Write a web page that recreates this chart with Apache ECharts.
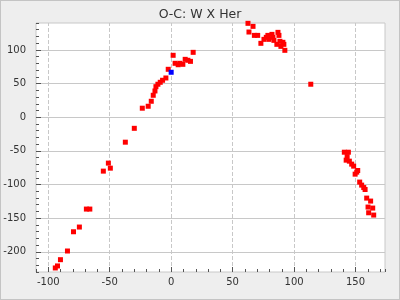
<!DOCTYPE html>
<html>
<head>
<meta charset="utf-8">
<script src="https://cdn.jsdelivr.net/npm/echarts@6/dist/echarts.min.js"></script>
<style>
html,body{margin:0;padding:0;background:#eeeeee;}
#wrap{position:relative;width:400px;height:300px;}
#c{width:400px;height:300px;}
#frame{position:absolute;left:0;top:0;width:398px;height:298px;border:1px solid #c4c4c4;pointer-events:none;}
</style>
</head>
<body>
<div id="wrap"><div id="c"></div><div id="frame"></div></div>
<script>
// Data
var titleText = 'O-C: W X Her';
var xTickLabels = [-100, -50, 0, 50, 100, 150];
var yTickLabels = [-200, -150, -100, -50, 0, 50, 100];

var redX = [
  -94.3, -92.5, -90.1, -84.4, -79.5, -74.7, -69.0, -66.2, -55.2, -51.1, -49.5, -37.3, -30.0,
  -23.5, -18.7, -16.2, -14.6, -13.2, -12.4, -10.8, -8.9, -7.0, -4.3, -2.4, 1.6, 3.2, 5.7, 7.1, 9.5, 11.4, 13.6, 15.7, 17.9,
  62.5, 66.6, 63.3, 67.7, 70.4, 73.0, 75.5, 77.4, 78.7, 79.5, 82.0, 82.8, 83.6, 86.9, 87.7, 86.0, 88.5, 89.3, 90.9, 91.7, 92.5,
  113.6,
  140.9, 144.2, 143.2, 142.4, 145.0, 146.9, 148.5, 151.8, 151.0, 149.7, 153.4, 155.0, 156.7, 157.8, 159.1, 162.3, 160.2, 164.0, 160.7, 164.8
];
var redY = [
  -224, -221, -211.7, -198.8, -170.2, -163.2, -136.5, -136.5, -80.1, -68.2, -75.7, -37.1, -16.5,
  13.4, 16.3, 23.7, 32.6, 39.0, 45.4, 49.0, 51.9, 54.9, 58.3, 71.2, 92.0, 80.1, 78.0, 80.1, 78.6, 86.0, 84.6, 83.0, 96.4,
  139.5, 135.0, 126.6, 121.6, 121.6, 109.8, 115.7, 118.7, 121.6, 115.7, 123.1, 118.7, 114.2, 126.1, 121.6, 108.3, 112.8, 105.3, 111.3, 108.3, 99.4,
  49.0,
  -52.0, -52.0, -58.5, -63.8, -65.3, -69.7, -72.7, -79.2, -81.6, -84.6, -96.4, -100.9, -104.5, -107.4, -120.2, -124.6, -133.5, -135.0, -142.0, -145.4
];
var blueX = [0.0];
var blueY = [66.8];

function zip(a, b) { return a.map(function (v, i) { return [v, b[i]]; }); }
function isTick(list, v) { return Math.abs(v - Math.round(v)) < 1e-6 && list.indexOf(Math.round(v)) >= 0; }

var font = 'DejaVu Sans';
var gridColor = '#c8c8c8';
var tickColor = '#555555';
var xMin = -110, xMax = 174, yMin = -230, yMax = 140, step = 10;
var G = {left: 36, right: 15, top: 23, bottom: 28};
var plotW = 400 - G.left - G.right, plotH = 300 - G.top - G.bottom;
// major tick length in pixels, converted to axis units
var majorX = 5 * (yMax - yMin) / plotH;   // for ticks on x axis (vertical extent)
var majorY = 5 * (xMax - xMin) / plotW;   // for ticks on y axis (horizontal extent)

var lines = [];
xTickLabels.forEach(function (v) {
  lines.push([{coord: [v, yMin], lineStyle: {type: 'dashed', color: gridColor, width: 1}}, {coord: [v, yMax]}]);
});
yTickLabels.forEach(function (v) {
  lines.push([{coord: [xMin, v], lineStyle: {type: 'solid', color: gridColor, width: 1}}, {coord: [xMax, v]}]);
});
var majorTicks = [];
xTickLabels.forEach(function (v) {
  majorTicks.push([{coord: [v, yMin], lineStyle: {type: 'solid', color: tickColor, width: 1}}, {coord: [v, yMin + majorX]}]);
});
yTickLabels.forEach(function (v) {
  majorTicks.push([{coord: [xMin, v], lineStyle: {type: 'solid', color: tickColor, width: 1}}, {coord: [xMin + majorY, v]}]);
});

var chart = echarts.init(document.getElementById('c'), null, {renderer: 'canvas'});
chart.setOption({
  animation: false,
  backgroundColor: '#eeeeee',
  title: {
    text: titleText, left: 'center', top: 3,
    textStyle: {fontFamily: font, fontSize: 12.5, fontWeight: 'normal', color: '#333333'}
  },
  grid: {
    left: G.left, right: G.right, top: G.top, bottom: G.bottom,
    show: true, backgroundColor: '#ffffff', borderColor: '#c8c8c8', borderWidth: 1
  },
  xAxis: {
    type: 'value', min: xMin, max: xMax, interval: step,
    axisLine: {show: false, onZero: false},
    axisTick: {show: true, inside: true, length: 3, lineStyle: {color: tickColor}},
    axisLabel: {
      margin: 5, fontFamily: font, fontSize: 10, color: '#333333',
      formatter: function (v) { return isTick(xTickLabels, v) ? String(Math.round(v)) : ''; }
    },
    splitLine: {show: false}
  },
  yAxis: {
    type: 'value', min: yMin, max: yMax, interval: step,
    axisLine: {show: false, onZero: false},
    axisTick: {show: true, inside: true, length: 3, lineStyle: {color: tickColor}},
    axisLabel: {
      margin: 10, fontFamily: font, fontSize: 10, color: '#333333',
      formatter: function (v) { return isTick(yTickLabels, v) ? String(Math.round(v)) : ''; }
    },
    splitLine: {show: false}
  },
  series: [{
    type: 'scatter', z: 3,
    symbol: 'rect', symbolSize: 5,
    itemStyle: {color: '#ff0000', opacity: 1},
    data: zip(redX, redY),
    markLine: {
      z: 1, silent: true, animation: false,
      symbol: ['none', 'none'], label: {show: false},
      data: lines
    }
  }, {
    type: 'scatter', z: 4,
    symbol: 'rect', symbolSize: 5,
    itemStyle: {color: '#0000ff', opacity: 1},
    data: zip(blueX, blueY),
    markLine: {
      z: 5, silent: true, animation: false,
      symbol: ['none', 'none'], label: {show: false},
      data: majorTicks
    }
  }]
});
</script>
</body>
</html>
